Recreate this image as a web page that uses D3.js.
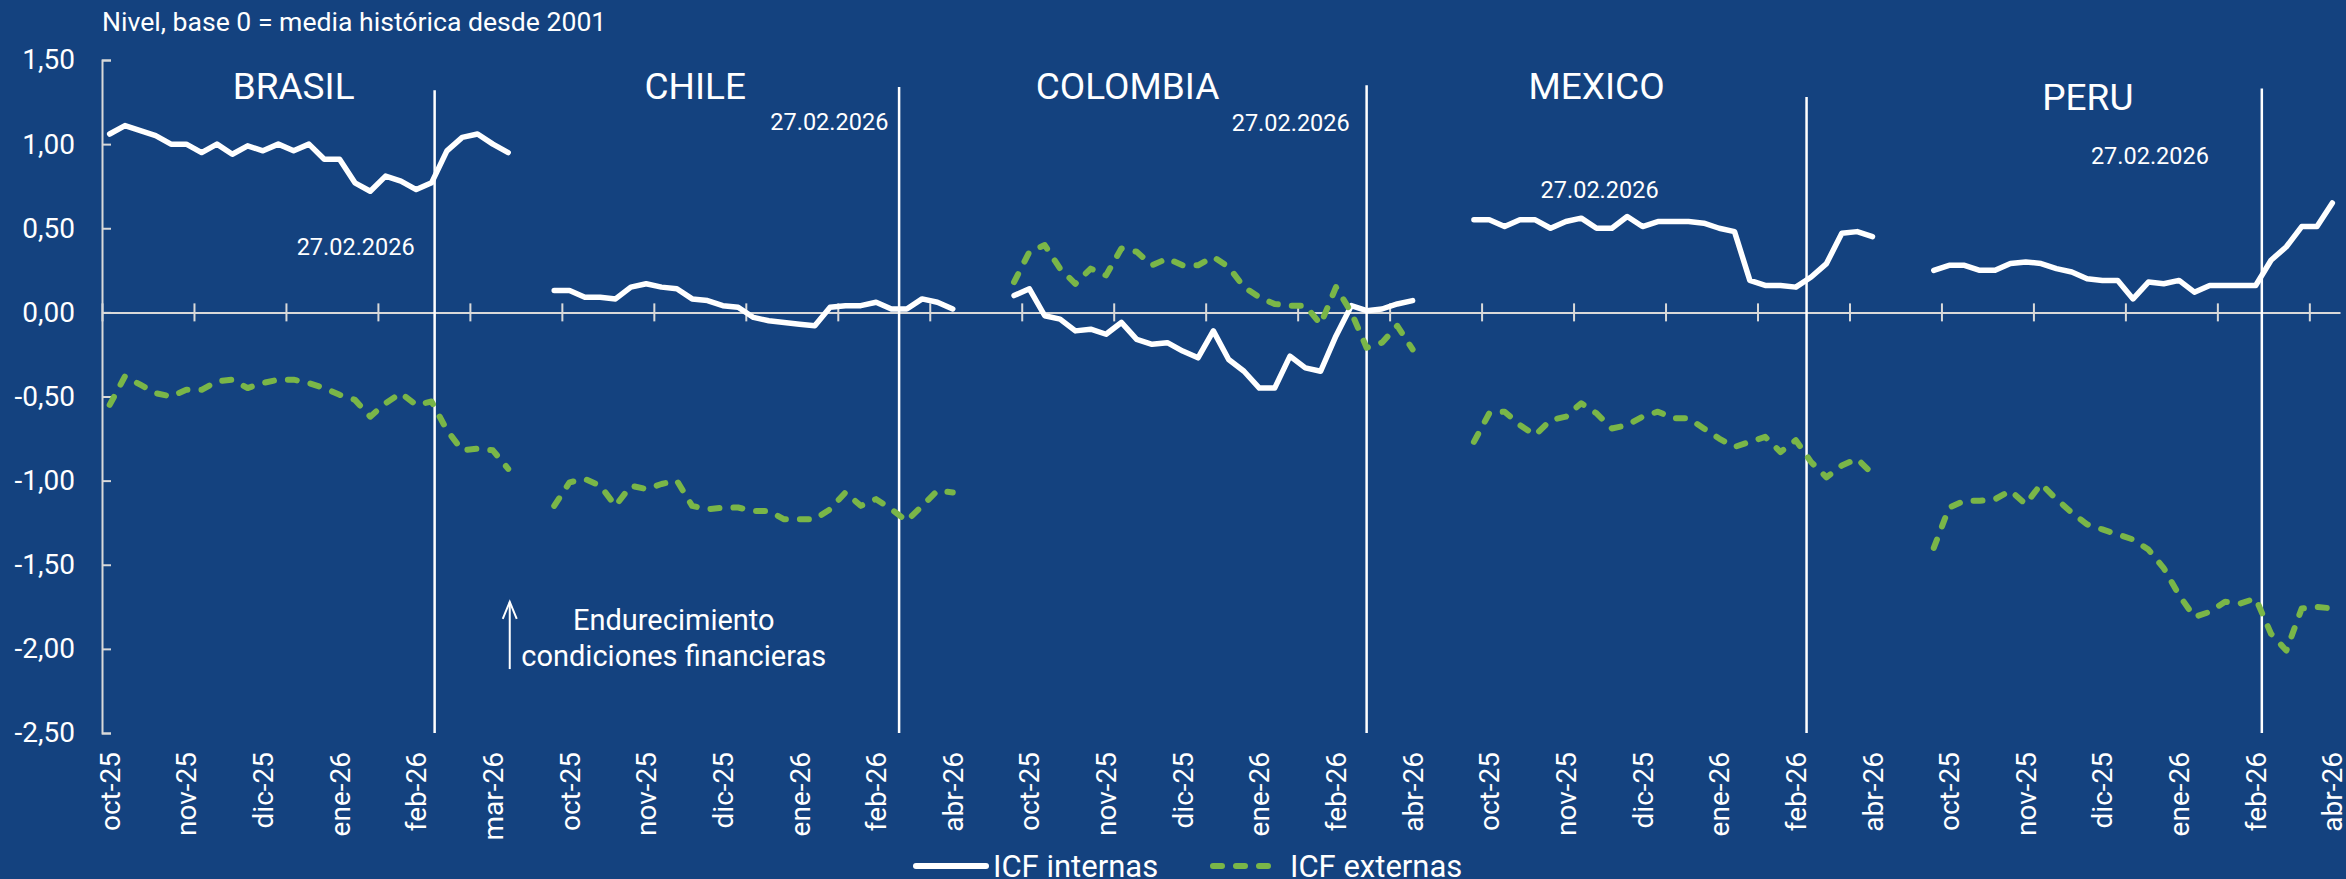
<!DOCTYPE html>
<html>
<head>
<meta charset="utf-8">
<script src="https://cdn.jsdelivr.net/npm/d3@7"></script>
<style>
  body { margin: 0; background: #14427f; }
  svg text { font-family: Roboto, "Noto Sans", sans-serif; fill: #ffffff; }
</style>
</head>
<body>
<div id="graph"></div>
<script>
// Índices de condiciones financieras (ICF), nivel, base 0 = media histórica desde 2001
// Datos semanales, 27 observaciones por país

let paises = ["BRASIL", "CHILE", "COLOMBIA", "MEXICO", "PERU"];

let brasilInternas = [1.06, 1.11, 1.08, 1.05, 1.00, 1.00, 0.95, 1.00, 0.94, 0.99, 0.96, 1.00, 0.96, 1.00, 0.91, 0.91, 0.77, 0.72, 0.81, 0.78, 0.73, 0.77, 0.96, 1.04, 1.06, 1.00, 0.95];
let brasilExternas = [-0.55, -0.38, -0.43, -0.48, -0.50, -0.46, -0.46, -0.41, -0.40, -0.45, -0.42, -0.40, -0.40, -0.42, -0.45, -0.49, -0.52, -0.62, -0.54, -0.48, -0.55, -0.53, -0.70, -0.82, -0.81, -0.82, -0.93];

let chileInternas = [0.13, 0.13, 0.09, 0.09, 0.08, 0.15, 0.17, 0.15, 0.14, 0.08, 0.07, 0.04, 0.03, -0.03, -0.05, -0.06, -0.07, -0.08, 0.03, 0.04, 0.04, 0.06, 0.02, 0.02, 0.08, 0.06, 0.02];
let chileExternas = [-1.15, -1.01, -0.99, -1.03, -1.15, -1.03, -1.05, -1.02, -1.00, -1.15, -1.17, -1.16, -1.16, -1.18, -1.18, -1.23, -1.23, -1.23, -1.17, -1.07, -1.15, -1.11, -1.17, -1.24, -1.15, -1.06, -1.07];

let colombiaInternas = [0.10, 0.14, -0.02, -0.04, -0.11, -0.10, -0.13, -0.06, -0.16, -0.19, -0.18, -0.23, -0.27, -0.11, -0.28, -0.35, -0.45, -0.45, -0.26, -0.33, -0.35, -0.14, 0.04, 0.01, 0.02, 0.05, 0.07];
let colombiaExternas = [0.18, 0.36, 0.40, 0.26, 0.17, 0.26, 0.22, 0.38, 0.36, 0.28, 0.32, 0.28, 0.28, 0.33, 0.27, 0.15, 0.09, 0.05, 0.04, 0.04, -0.07, 0.15, 0.00, -0.21, -0.18, -0.08, -0.22];

let mexicoInternas = [0.55, 0.55, 0.51, 0.55, 0.55, 0.50, 0.54, 0.56, 0.50, 0.50, 0.57, 0.51, 0.54, 0.54, 0.54, 0.53, 0.50, 0.48, 0.19, 0.16, 0.16, 0.15, 0.21, 0.29, 0.47, 0.48, 0.45];
let mexicoExternas = [-0.77, -0.60, -0.59, -0.67, -0.73, -0.64, -0.62, -0.54, -0.60, -0.69, -0.67, -0.62, -0.59, -0.63, -0.63, -0.69, -0.75, -0.80, -0.77, -0.74, -0.83, -0.76, -0.89, -0.98, -0.91, -0.87, -0.96];

let peruInternas = [0.25, 0.28, 0.28, 0.25, 0.25, 0.29, 0.30, 0.29, 0.26, 0.24, 0.20, 0.19, 0.19, 0.08, 0.18, 0.17, 0.19, 0.12, 0.16, 0.16, 0.16, 0.16, 0.31, 0.39, 0.51, 0.51, 0.65];
let peruExternas = [-1.40, -1.16, -1.12, -1.12, -1.11, -1.06, -1.14, -1.02, -1.11, -1.19, -1.26, -1.29, -1.32, -1.35, -1.41, -1.52, -1.68, -1.81, -1.78, -1.72, -1.73, -1.70, -1.91, -2.01, -1.76, -1.75, -1.76];

// categorías vacías que separan cada país del siguiente
let huecos = [2, 3, 3, 3, 0];

// etiquetas del eje X (una cada 5 categorías)
let etiquetas = [
  "oct-25", "nov-25", "dic-25", "ene-26", "feb-26", "mar-26",
  "oct-25", "nov-25", "dic-25", "ene-26", "feb-26", "abr-26",
  "oct-25", "nov-25", "dic-25", "ene-26", "feb-26", "abr-26",
  "oct-25", "nov-25", "dic-25", "ene-26", "feb-26", "abr-26",
  "oct-25", "nov-25", "dic-25", "ene-26", "feb-26", "abr-26"
];
let valoresY = [-2.5, -2, -1.5, -1, -0.5, 0, 0.5, 1, 1.5];

let fecha = "27.02.2026";
// posición (categoría dentro del panel) de la línea vertical del 27.02.2026
let fechaPos = [21.2, 22.5, 23.0, 21.7, 21.4];

let internas = [brasilInternas, chileInternas, colombiaInternas, mexicoInternas, peruInternas];
let externas = [brasilExternas, chileExternas, colombiaExternas, mexicoExternas, peruExternas];

// inicio de cada panel sobre el eje de categorías
let inicios = [];
let n = 0;
internas.forEach(function(serie, p) {
  inicios.push(n);
  n = n + serie.length + huecos[p];
});

// Anotaciones (categoría relativa, valor) colocadas a mano como en el original
let nombrePos = [[12.0, 1.27], [9.2, 1.27], [7.4, 1.27], [8.0, 1.27], [10.05, 1.204]];
let fechaTexto = [[19.9, 0.34], [21.8, 1.085], [21.9, 1.08], [12.05, 0.68], [17.95, 0.883]];
let fechaTope = [1.32, 1.34, 1.35, 1.28, 1.33];

let largeurTotale = 2346,
    hauteurTotale = 879,
    gauche = 102,
    droite = 2340,
    haut = 60,
    bas = 733;

let blanco = "#ffffff",
    verde = "#7ab648",
    gris = "#d9d9d9";

// Echelles
let echelleX = d3.scaleBand()
    .domain(d3.range(n))
    .range([gauche, droite]);
let echelleK = d3.scaleLinear()
    .domain([0, n])
    .range([gauche, droite]);
let centro = function(k) { return echelleK(k + 0.5); };

let echelleY = d3.scaleLinear()
    .domain([-2.5, 1.5])
    .range([bas, haut]);

let format = d3.formatLocale({decimal: ",", thousands: ".", grouping: [3], currency: ["", ""], minus: "-"}).format(".2f");

let svg = d3.select("#graph").append("svg")
    .attr("width", largeurTotale)
    .attr("height", hauteurTotale);

// Título
svg.append("text")
    .attr("x", gauche)
    .attr("y", 31)
    .style("font-size", "26.6px")
    .text("Nivel, base 0 = media histórica desde 2001");

// Eje Y
let axeY = svg.append("g")
    .attr("transform", "translate(" + gauche + ",0)")
    .call(d3.axisLeft(echelleY)
      .tickValues(valoresY)
      .tickSizeInner(-9)
      .tickSizeOuter(-9)
      .tickPadding(27)
      .tickFormat(format));
axeY.select(".domain").attr("stroke", gris).attr("stroke-width", 2);
axeY.selectAll(".tick line").attr("stroke", gris).attr("stroke-width", 2);
axeY.selectAll(".tick text")
    .style("font-size", "28px")
    .style("font-family", "Roboto")
    .attr("fill", blanco);

// Eje X en el cero, con marcas cada 6 categorías
let axeX = svg.append("g")
    .attr("transform", "translate(0," + echelleY(0) + ")")
    .call(d3.axisBottom(echelleK)
      .tickValues(d3.range(0, n + 1, 6))
      .tickSize(9)
      .tickSizeOuter(0)
      .tickFormat(""));
axeX.select(".domain").attr("stroke", gris).attr("stroke-width", 2);
axeX.selectAll(".tick line").attr("stroke", gris).attr("stroke-width", 2).attr("y1", -9);

// Etiquetas de meses debajo del gráfico
let axeEtiq = svg.append("g")
    .attr("transform", "translate(0," + bas + ")")
    .call(d3.axisBottom(echelleX)
      .tickValues(d3.range(0, n, 5))
      .tickSize(0)
      .tickFormat(function(i) { return etiquetas[i / 5]; }));
axeEtiq.select(".domain").remove();
axeEtiq.selectAll(".tick text")
    .attr("transform", "rotate(-90)")
    .attr("x", -19)
    .attr("y", 0)
    .attr("dy", "0.36em")
    .style("text-anchor", "end")
    .style("font-size", "28px")
    .style("font-family", "Roboto")
    .attr("fill", blanco);

// Líneas verticales del 27.02.2026
svg.selectAll(".fecha-linea")
    .data(fechaPos)
    .enter()
    .append("line")
    .attr("class", "fecha-linea")
    .attr("x1", function(d, p) { return centro(inicios[p] + d); })
    .attr("x2", function(d, p) { return centro(inicios[p] + d); })
    .attr("y1", function(d, p) { return echelleY(fechaTope[p]); })
    .attr("y2", echelleY(-2.5))
    .attr("stroke", blanco)
    .attr("stroke-width", 2.5);

let ligne = d3.line()
    .x(function(d) { return centro(d.k); })
    .y(function(d) { return echelleY(d.v); });

function puntos(serie, p) {
  return serie.map(function(v, i) { return {k: inicios[p] + i, v: v}; });
}

// ICF internas
svg.selectAll(".internas")
    .data(internas)
    .enter()
    .append("path")
    .attr("class", "internas")
    .attr("d", function(serie, p) { return ligne(puntos(serie, p)); })
    .attr("fill", "none")
    .attr("stroke", blanco)
    .attr("stroke-width", 5.5)
    .attr("stroke-linejoin", "round")
    .attr("stroke-linecap", "round");

// ICF externas
svg.selectAll(".externas")
    .data(externas)
    .enter()
    .append("path")
    .attr("class", "externas")
    .attr("d", function(serie, p) { return ligne(puntos(serie, p)); })
    .attr("fill", "none")
    .attr("stroke", verde)
    .attr("stroke-width", 6)
    .attr("stroke-dasharray", "9,14")
    .attr("stroke-linejoin", "round")
    .attr("stroke-linecap", "round");

// Nombres de países
svg.selectAll(".pais")
    .data(paises)
    .enter()
    .append("text")
    .attr("class", "pais")
    .attr("x", function(d, p) { return centro(inicios[p] + nombrePos[p][0]); })
    .attr("y", function(d, p) { return echelleY(nombrePos[p][1]); })
    .style("text-anchor", "middle")
    .style("font-size", "37px")
    .text(function(d) { return d; });

// Texto de la fecha
svg.selectAll(".fecha")
    .data(fechaTexto)
    .enter()
    .append("text")
    .attr("class", "fecha")
    .attr("x", function(d, p) { return centro(inicios[p] + d[0]); })
    .attr("y", function(d) { return echelleY(d[1]); })
    .style("text-anchor", "end")
    .style("font-size", "23.5px")
    .text(fecha);

// Flecha "Endurecimiento condiciones financieras"
let kFlecha = 26.1;
svg.append("line")
    .attr("x1", centro(kFlecha)).attr("x2", centro(kFlecha))
    .attr("y1", echelleY(-2.12)).attr("y2", echelleY(-1.72))
    .attr("stroke", blanco).attr("stroke-width", 2);
svg.append("path")
    .attr("d", "M" + (centro(kFlecha) - 7) + "," + (echelleY(-1.72) + 17) +
               "L" + centro(kFlecha) + "," + echelleY(-1.72) +
               "L" + (centro(kFlecha) + 7) + "," + (echelleY(-1.72) + 17))
    .attr("fill", "none").attr("stroke", blanco).attr("stroke-width", 2);
let kNota = 36.8;
let nota = svg.append("text")
    .attr("x", centro(kNota))
    .attr("y", echelleY(-1.89))
    .style("text-anchor", "middle")
    .style("font-size", "29px");
nota.append("tspan").attr("x", centro(kNota)).text("Endurecimiento");
nota.append("tspan").attr("x", centro(kNota)).attr("dy", 36).text("condiciones financieras");

// Leyenda
let leyenda = svg.append("g").attr("transform", "translate(916,866)");
leyenda.append("line")
    .attr("x1", 0).attr("x2", 70)
    .attr("stroke", blanco).attr("stroke-width", 6).attr("stroke-linecap", "round");
leyenda.append("text")
    .attr("x", 77).attr("y", 11)
    .style("font-size", "31px")
    .text("ICF internas");
leyenda.append("line")
    .attr("x1", 297).attr("x2", 358)
    .attr("stroke", verde).attr("stroke-width", 6)
    .attr("stroke-dasharray", "9,14").attr("stroke-linecap", "round");
leyenda.append("text")
    .attr("x", 374).attr("y", 11)
    .style("font-size", "31px")
    .text("ICF externas");
</script>
</body>
</html>
